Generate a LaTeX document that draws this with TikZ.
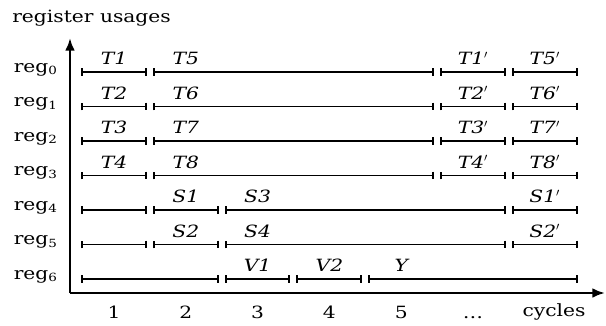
\documentclass[tikz,border=0pt]{standalone}
\usepackage{fontspec}
\setmainfont{DejaVu Serif}[FakeStretch=1.2]
\usetikzlibrary{arrows.meta}

\begin{document}
\begin{tikzpicture}[x=0.025cm,y=0.025cm,font=\fontsize{12}{14}\selectfont,
    seg/.style={{Bar[width=5.5pt]}-{Bar[width=5.5pt]},line width=1.4pt},
    axis/.style={-{Latex[length=9pt,width=7pt]},line width=2pt},
    lbl/.style={anchor=base,inner sep=0pt,font=\fontsize{12}{14}\selectfont\itshape}]
    \useasboundingbox (0,0) rectangle (606,325);

    % Axes
    \coordinate (orig) at (70,32);
    \coordinate (ytop) at (70,287);
    \coordinate (xend) at (605,32);
    \draw[axis] (orig) -- (ytop);
    \draw[axis] (orig) -- (xend);
    \node[anchor=base west,inner sep=0pt] (ytitle) at (12,303) {register usages};
    \node[anchor=base,inner sep=0pt] (xtitle) at (554,9) {cycles};

    % Cycle numbers
    \foreach \k/\n in {0/1,1/2,2/3,3/4,4/5,5/{\dots}} {
      \node[anchor=base,inner sep=0pt] (cyc\k) at ({114+71.8*\k},7) {\n};
    }

    % Register names
    \foreach \r in {0,1,2,3,4,5,6} {
      \node[anchor=base east,inner sep=0pt] (reg\r) at (58,{253-34.5*\r}) {reg\textsubscript{\r}};
    }

    % Live ranges: row/start/end/label/label cycle
    \foreach \r/\a/\b/\t/\c in {
      0/0/1/T1/0, 0/1/5/T5/1, 0/5/6/{T1$'$}/5, 0/6/7/{T5$'$}/6,
      1/0/1/T2/0, 1/1/5/T6/1, 1/5/6/{T2$'$}/5, 1/6/7/{T6$'$}/6,
      2/0/1/T3/0, 2/1/5/T7/1, 2/5/6/{T3$'$}/5, 2/6/7/{T7$'$}/6,
      3/0/1/T4/0, 3/1/5/T8/1, 3/5/6/{T4$'$}/5, 3/6/7/{T8$'$}/6,
      4/0/1/{}/0, 4/1/2/S1/1, 4/2/6/S3/2, 4/6/7/{S1$'$}/6,
      5/0/1/{}/0, 5/1/2/S2/1, 5/2/6/S4/2, 5/6/7/{S2$'$}/6,
      6/0/2/{}/0, 6/2/3/V1/2, 6/3/4/V2/3, 6/4/7/Y/4
    } {
      \draw[seg] ({81+71.8*\a},{253-34.5*\r}) -- ({75+71.8*\b},{253-34.5*\r});
      \node[lbl] (lr\r-\a) at ({114+71.8*\c},{260.5-34.5*\r}) {\t};
    }
\end{tikzpicture}
\end{document}
